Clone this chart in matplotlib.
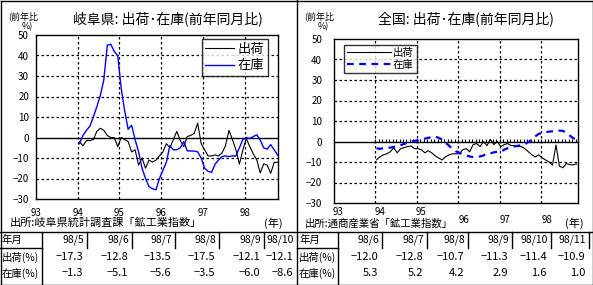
import matplotlib
matplotlib.use('Agg')
import matplotlib.pyplot as plt
import matplotlib.transforms as mtransforms
import numpy as np

plt.rcParams['font.family'] = ['Noto Sans CJK JP', 'DejaVu Sans']
plt.rcParams['axes.unicode_minus'] = True

W, H = 593, 285

# 岐阜県 出荷・在庫 前年同月比 (94/1 - 98/10)
gifu_ship = [-2, -4, -1.5, -1.5, -1, 3, 4.5, 3.5, 1, 0,
             0, -4.5, 0, -1, -2, -7, -6, -13.5, -10, -15,
             -11, -12, -11, -9, -7, -3, -5, -1, 3, -1.5,
             -4.5, 0.5, 1, 2, 7, -3, -6, -9, -9, -8.5,
             -9, -7.5, -4, 3.5, -1, -6, -13, -6, -0.5, -4.5,
             -8, -11, -17.3, -12.8, -13.5, -17.5, -12.1, -12.1]
gifu_stock = [-3, 1, 3.5, 5.5, 10, 15, 20.5, 28, 45, 45.5,
              42, 40, 24, 13, 4, 6, -1, -7, -15, -20,
              -24, -25, -25.5, -20, -16, -12, -4, -6, -6, -5,
              -2, -6.5, -6.6, -6.6, -7, -10, -15, -16.5, -17, -13,
              -11, -9.3, -9, -9.3, -9, -9, -5, -1, 0, -0.5,
              0.5, 1.3, -1.3, -5.1, -5.6, -3.5, -6.0, -8.6]

# 全国 出荷・在庫 前年同月比 (94/1 - 98/11)
japan_ship = [-9, -7.5, -6.5, -6, -5, -3, -5.5, -3.5, -3, -2.5,
              -2.2, -3.5, -3.5, -4, -5.5, -4.5, -5.5, -7, -8, -9,
              -7.5, -6.5, -6, -6, -6, -4, -3.5, -5, -1.5, -1,
              -2.5, 0, -2, 1, -1.5, 0, -2.5, -1.5, -1, -2,
              -2, -2.5, -2.5, -3.5, -5, -6.5, -7.5, -6.5, -8, -9,
              -10, -11.5, -1.7, -12.0, -12.8, -10.7, -11.3, -11.4, -10.9]
japan_stock = [-3.3, -3.6, -3.2, -3, -3, -2.6, -2.3, -1.8, -1.2, -0.6,
               0, 0.3, 0.6, 1, 1.4, 1.8, 2.1, 2.4, 1.8, 1,
               -0.5, -2, -3.5, -4.8, -5.5, -6.2, -6.8, -7.3, -7.6, -7.6,
               -7.3, -6.8, -6.1, -5.8, -5.3, -5, -5, -4, -3.3, -2.8,
               -2.4, -2.1, -1.8, -1.3, -0.3, 1, 2.5, 3.7, 4.3, 4.6,
               4.8, 5, 5.1, 5.3, 5.2, 4.2, 2.9, 1.6, 1.0]

years = [93, 94, 95, 96, 97, 98]
year_labels = ['93', '94', '95', '96', '97', '98']
y_ticks = [50, 40, 30, 20, 10, 0, -10, -20, -30]

gifu_months = ['98/5', '98/6', '98/7', '98/8', '98/9', '98/10']
gifu_ship_tab = ['-17.3', '-12.8', '-13.5', '-17.5', '-12.1', '-12.1']
gifu_stock_tab = ['-1.3', '-5.1', '-5.6', '-3.5', '-6.0', '-8.6']
japan_months = ['98/6', '98/7', '98/8', '98/9', '98/10', '98/11']
japan_ship_tab = ['-12.0', '-12.8', '-10.7', '-11.3', '-11.4', '-10.9']
japan_stock_tab = ['5.3', '5.2', '4.2', '2.9', '1.6', '1.0']
row_labels = ['年月', '出荷(%)', '在庫(%)']


def fx(x):
    return x / W


def fy(y):
    return 1 - y / H


def ptxt(x, y, s, **kw):
    fig.text(fx(x), fy(y), s, **kw)


fig = plt.figure(figsize=(W / 100, H / 100), dpi=100)


def setup_axes(ax, xmax, ypad):
    ax.set_xlim(93, xmax)
    ax.set_ylim(-30, 50)
    ax.set_yticks(y_ticks)
    ax.set_yticklabels([str(v).replace('-', '\u2212') for v in y_ticks], fontsize=7)
    ax.set_xticks(years)
    ax.tick_params(length=0)
    ax.tick_params(axis='y', pad=ypad)
    for v in y_ticks:
        if v not in (50, -30, 0):
            ax.axhline(v, color='black', lw=0.9, ls=(0, (2, 2)), zorder=1)
    for v in years[1:]:
        ax.axvline(v, color='black', lw=0.9, ls=(0, (2, 2)), zorder=1)
    for s in ax.spines.values():
        s.set_linewidth(1.0)


# left panel
ax1 = fig.add_axes([fx(36), fy(199), (278 - 36) / W, 164 / H])
setup_axes(ax1, 98.8, 5)
ax1.set_xticklabels(year_labels, fontsize=7)
ax1.tick_params(axis='x', pad=6.5)
ax1.axhline(0, color='black', lw=1.0, zorder=2)
gx = 94 + (np.arange(len(gifu_ship)) + 0.5) / 12
ax1.plot(gx, gifu_ship, color='black', lw=0.8, label='出荷', zorder=3)
ax1.plot(gx, gifu_stock, color='#0000ff', lw=1.0, label='在庫', zorder=3)
leg = ax1.legend(loc='upper right', bbox_to_anchor=(0.957, 0.975), fontsize=9.5,
                 frameon=True, fancybox=False, handlelength=2.2, handletextpad=0.2,
                 borderpad=0.3, labelspacing=0.25, borderaxespad=0)
leg.get_frame().set_edgecolor('black')
leg.get_frame().set_linewidth(1.0)

# right panel
ax2 = fig.add_axes([fx(334), fy(203), (578 - 334) / W, 164 / H])
setup_axes(ax2, 98.89, 8.5)
ax2.set_xticklabels(year_labels, fontsize=7, ha='left')
ax2.tick_params(axis='x', pad=8.5)
for i, lab in enumerate(ax2.get_xticklabels()):
    if i < 3:
        off = mtransforms.ScaledTranslation(-1 / 100, 8 / 100, fig.dpi_scale_trans)
        lab.set_transform(lab.get_transform() + off)
zax = ax2.secondary_xaxis(0.375)
zax.set_xticks(94 + np.arange(len(japan_ship)) / 12)
zax.set_xticklabels([])
zax.tick_params(direction='in', length=2.5, width=0.8)
zax.spines['bottom'].set_linewidth(1.0)
jx = 94 + (np.arange(len(japan_ship)) + 0.3) / 12
ax2.plot(jx, japan_ship, color='black', lw=0.8, label='出荷', zorder=3)
ax2.plot(jx, japan_stock, color='#0000ff', lw=1.6, ls=(0, (3, 2.5)), label='在庫', zorder=3)
leg2 = ax2.legend(loc='upper left', bbox_to_anchor=(0.041, 0.965), fontsize=7.5,
                  frameon=True, fancybox=False, handlelength=4.2, handletextpad=0.2,
                  borderpad=0.3, labelspacing=0.2, borderaxespad=0)
leg2.get_frame().set_edgecolor('black')
leg2.get_frame().set_linewidth(1.0)

# titles and notes
ptxt(168, 19, '岐阜県: 出荷･在庫(前年同月比)', fontsize=10, ha='center', va='center')
ptxt(466, 19, '全国: 出荷･在庫(前年同月比)', fontsize=10, ha='center', va='center')
for x0 in (8, 304):
    ptxt(x0, 16, '(前年比', fontsize=6.5, ha='left', va='center')
    ptxt(x0 + 14, 27, '%)', fontsize=6.5, ha='left', va='center')
ptxt(10, 223, '出所:岐阜県統計調査課「鉱工業指数」', fontsize=8, ha='left', va='center')
ptxt(283, 223, '(年)', fontsize=8, ha='right', va='center')
ptxt(305, 224, '出所:通商産業省「鉱工業指数」', fontsize=7.5, ha='left', va='center')
ptxt(584, 223, '(年)', fontsize=8, ha='right', va='center')

# frame lines
def fline(x0, y0, x1, y1, lw=1.0):
    fig.add_artist(plt.Line2D([fx(x0), fx(x1)], [fy(y0), fy(y1)], color='black', lw=lw,
                              transform=fig.transFigure))


fline(0.5, 0.5, 592.5, 0.5)
fline(0.5, 284.5, 592.5, 284.5)
fline(0.5, 0.5, 0.5, 284.5)
fline(592.5, 0.5, 592.5, 284.5)
fline(297, 0, 297, 285)
fline(0, 232, 593, 232)

# table
row_y = [240, 257, 273]
tables = [(0, [42, 87, 132, 175, 219, 264, 297], gifu_months, gifu_ship_tab, gifu_stock_tab),
          (297, [338, 382, 427, 468, 512, 551, 589], japan_months, japan_ship_tab, japan_stock_tab)]
for x0, edges, months, ship, stock in tables:
    fline(edges[0], 232, edges[0], 285)
    fline(x0, 248, edges[0], 248)
    for j, lab in enumerate(row_labels):
        ptxt(x0 + 2, row_y[j], lab, fontsize=7.5, ha='left', va='center')
    for i in range(len(months)):
        right = edges[i + 1]
        if right != 297:
            fline(right, 232, right, 248)
        ptxt(right - 3, row_y[0], months[i], fontsize=7.5, ha='right', va='center')
        ptxt(right - 4, row_y[1], ship[i].replace('-', '\u2212'), fontsize=8, ha='right', va='center')
        ptxt(right - 4, row_y[2], stock[i].replace('-', '\u2212'), fontsize=8, ha='right', va='center')

fig.savefig('out.png', dpi=100)
